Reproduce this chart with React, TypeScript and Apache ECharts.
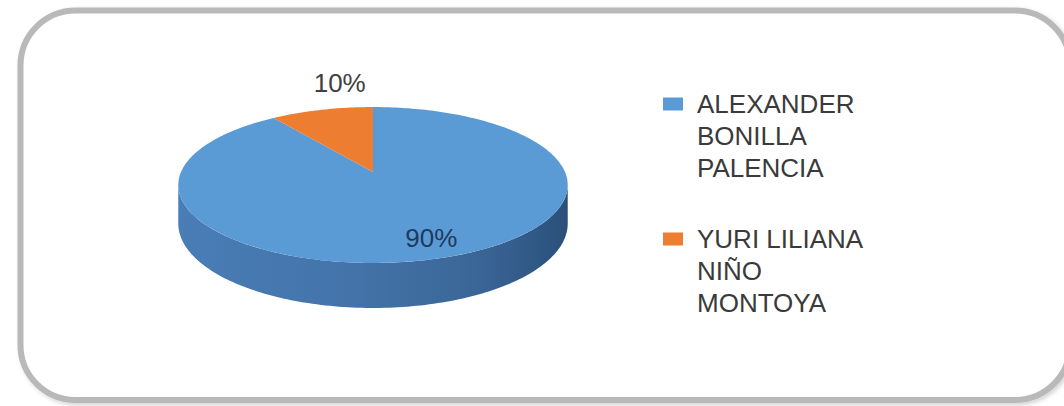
import React, { useEffect, useRef } from 'react';
import * as echarts from 'echarts';

// ---- data ----
const categories = ['ALEXANDER BONILLA PALENCIA', 'YURI LILIANA NIÑO MONTOYA'];
const legendLines = [
  ['ALEXANDER', 'BONILLA', 'PALENCIA'],
  ['YURI LILIANA', 'NIÑO', 'MONTOYA'],
];
const values = [90, 10];
const labelPlacement = ['inside', 'outside'];

// ---- styles ----
const FONT = "'Liberation Sans', Arial, sans-serif";
const TOP_COLORS = ['#5b9bd5', '#ed7d31'];
const SIDE_STOPS = [
  ['#4a7db6', '#4373a9', '#3b6798', '#305885', '#2b5079'],
  ['#c9651f', '#bb5c1b', '#ad5418', '#9a4914', '#8c4212'],
];
const LABEL_COLORS = ['#1f3a5f', '#404040'];

// ---- tilted-disc geometry (perspective projection) ----
const CX = 373;
const CY = 172;
const R = 192;
const RY = 75.8;
const K = 1 / 6;
const H = 37.5;
const START = -Math.PI / 2;

function project(X: number, Z: number, drop = 0): number[] {
  const w = 1 / (1 - K * Z);
  return [CX + R * X * w, CY + (RY * Z + drop) * w];
}

function arc(a0: number, a1: number, r: number, drop: number): number[][] {
  const n = Math.max(2, Math.ceil(Math.abs(a1 - a0) / 0.02));
  const pts: number[][] = [];
  for (let i = 0; i <= n; i++) {
    const a = a0 + ((a1 - a0) * i) / n;
    pts.push(project(r * Math.cos(a), r * Math.sin(a), drop));
  }
  return pts;
}

function makeRenderItem(idx: number) {
  return (params: any, api: any) => {
    const v = api.value(0);
    const total = values.reduce((s, x) => s + x, 0);
    let cum = 0;
    for (let j = 0; j < idx; j++) cum += values[j];
    const a0 = START + (2 * Math.PI * cum) / total;
    const a1 = a0 + (2 * Math.PI * v) / total;
    const children: any[] = [];

    // visible side wall (front half of the disc)
    const f0 = Math.asin(K);
    const f1 = Math.PI - f0;
    for (const shift of [0, -2 * Math.PI, 2 * Math.PI]) {
      const lo = Math.max(a0 + shift, f0);
      const hi = Math.min(a1 + shift, f1);
      if (lo < hi) {
        const stops = SIDE_STOPS[idx];
        children.push({
          type: 'polygon',
          shape: { points: arc(lo, hi, 1, 0).concat(arc(lo, hi, 1, H).reverse()) },
          style: {
            fill: new echarts.graphic.LinearGradient(0, 0, 1, 0, [
              { offset: 0, color: stops[0] },
              { offset: 0.45, color: stops[1] },
              { offset: 0.75, color: stops[2] },
              { offset: 0.92, color: stops[3] },
              { offset: 1, color: stops[4] },
            ]),
          },
          z2: 1,
        });
      }
    }

    // top face
    children.push({
      type: 'polygon',
      shape: { points: [project(0, 0)].concat(arc(a0, a1, 1, 0)) },
      style: { fill: TOP_COLORS[idx] },
      z2: 10,
    });

    // data label
    const mid = (a0 + a1) / 2;
    const pct = Math.round((v / total) * 100) + '%';
    let lx: number;
    let ly: number;
    if (labelPlacement[idx] === 'inside') {
      const p = project(0.8 * Math.cos(mid), 0.8 * Math.sin(mid));
      lx = p[0] + 4;
      ly = p[1];
    } else {
      const e = project(Math.cos(mid), Math.sin(mid));
      lx = CX + (e[0] - CX) * 0.65;
      ly = e[1] - 27;
    }
    children.push({
      type: 'text',
      x: lx,
      y: ly,
      style: {
        text: pct,
        fill: LABEL_COLORS[idx],
        fontSize: 26,
        fontFamily: FONT,
        align: 'center',
        verticalAlign: 'middle',
      },
      z2: 20,
    });

    return { type: 'group', children };
  };
}

export default function App() {
  const ref = useRef<HTMLDivElement>(null);

  useEffect(() => {
    if (!ref.current) return;
    const chart = echarts.init(ref.current, null, { renderer: 'svg' });
    chart.setOption({
      animation: false,
      backgroundColor: '#ffffff',
      graphic: [
        {
          type: 'rect',
          z: -10,
          silent: true,
          shape: { x: 20.5, y: 10.5, width: 1049.5, height: 389.5, r: 55 },
          style: {
            fill: '#ffffff',
            stroke: '#b9b9b9',
            lineWidth: 6,
            shadowColor: 'rgba(0,0,0,0.18)',
            shadowBlur: 4,
            shadowOffsetX: 2,
            shadowOffsetY: 2,
          },
        },
      ],
      legend: {
        orient: 'vertical',
        left: 663,
        top: 24,
        padding: 0,
        itemWidth: 20,
        itemHeight: 13,
        itemGap: -25,
        icon: 'rect',
        selectedMode: false,
        data: categories,
        // two leading blank lines keep the first text line level with the marker
        formatter: (name: string) => '\n\n' + legendLines[categories.indexOf(name)].join('\n'),
        textStyle: {
          fontSize: 26,
          lineHeight: 32,
          color: '#3a3a3a',
          fontFamily: FONT,
          padding: [0, 0, 0, 9],
        },
      },
      series: categories.map((name, i) => ({
        type: 'custom',
        name,
        coordinateSystem: 'none',
        silent: true,
        itemStyle: { color: TOP_COLORS[i] },
        data: [values[i]],
        renderItem: makeRenderItem(i),
      })),
    });
    return () => chart.dispose();
  }, []);

  return (
    <div
      ref={ref}
      style={{ position: 'fixed', left: 0, top: 0, width: 1064, height: 406 }}
    />
  );
}
